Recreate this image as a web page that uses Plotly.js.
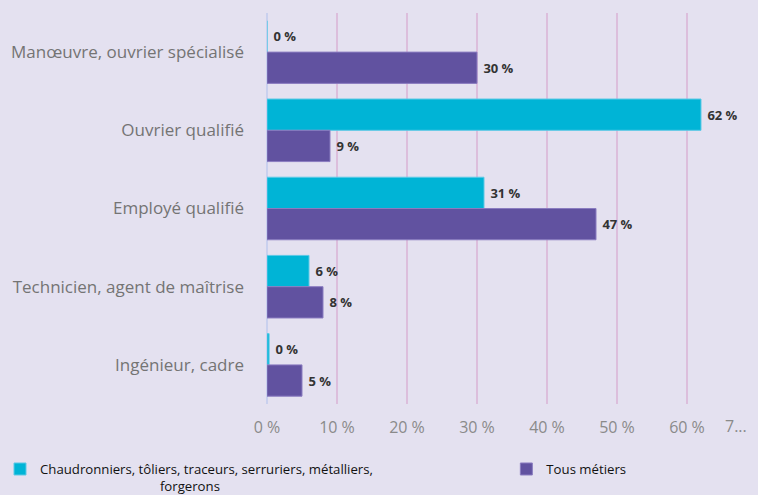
<!DOCTYPE html>
<html><head><meta charset="utf-8">
<script src="https://cdn.plot.ly/plotly-3.0.1.min.js"></script>
<style>html,body{margin:0;padding:0;background:#e4e1f0;}#chart{width:758px;height:495px;}</style>
</head><body><div id="chart"></div>
<script>
const categories = ["Manœuvre, ouvrier spécialisé","Ouvrier qualifié","Employé qualifié","Technicien, agent de maîtrise","Ingénieur, cadre"];
const chaudronniers = [0, 62, 31, 6, 0.3];
const tousMetiers = [30, 9, 47, 8, 5];
const pad = "\u00a0".repeat(35);
const seriesNames = ["Chaudronniers, tôliers, traceurs, serruriers, métalliers,<br>" + pad + "forgerons","Tous métiers"];
const tickVals = [0,10,20,30,40,50,60,70];
const tickText = ["0 %","10 %","20 %","30 %","40 %","50 %","60 %",""];
const lastTickVal = 70;
const lastTickText = "7...";

const labelFont = {family:"Open Sans", size:13, color:"#333333", weight:"bold"};
const traces = [
  {type:"bar", orientation:"h", y:categories, x:chaudronniers, name:seriesNames[0], legend:"legend",
   marker:{color:"#00b4d6", line:{color:"#5cc9e6", width:1}},
   texttemplate:"\u00a0%{x:.0f} %", textposition:"outside", textfont:labelFont, cliponaxis:false, hoverinfo:"skip"},
  {type:"bar", orientation:"h", y:categories, x:tousMetiers, name:seriesNames[1], legend:"legend2",
   marker:{color:"#6152a0", line:{color:"#8a7cc0", width:1}},
   texttemplate:"\u00a0%{x:.0f} %", textposition:"outside", textfont:labelFont, cliponaxis:false, hoverinfo:"skip"}
];
const legendFont = {family:"Open Sans", size:13.2, color:"#111111"};
const tickFont = {family:"Open Sans", size:16, color:"#8a8a8a"};
const layout = {
  width:758, height:495,
  paper_bgcolor:"#e4e1f0", plot_bgcolor:"#e4e1f0",
  margin:{l:267, r:1, t:13, b:91},
  barmode:"group", bargap:0.2, bargroupgap:0,
  font:{family:"Open Sans", size:14, color:"#6e6e6e"},
  xaxis:{range:[0,70], tickvals:tickVals, ticktext:tickText, showgrid:true, gridcolor:"#dcbedc", gridwidth:1.5,
         zeroline:true, zerolinecolor:"#c9d0ee", zerolinewidth:1.5, showline:false, ticks:"",
         tickfont:tickFont, ticklabelstandoff:12, fixedrange:true},
  yaxis:{autorange:"reversed", showgrid:false, zeroline:false, ticks:"", ticklabelstandoff:22,
         tickfont:{family:"Open Sans", size:17, color:"#747474"}, fixedrange:true},
  annotations:[{x:lastTickVal, xref:"x", y:0, yref:"paper", yanchor:"top", xanchor:"right", xshift:-8, yshift:-9,
                text:lastTickText, showarrow:false, font:tickFont}],
  showlegend:true,
  legend:{orientation:"h", xref:"container", yref:"container", x:-0.01, y:0.083, xanchor:"left", yanchor:"top",
          font:legendFont, valign:"top", itemwidth:30, bgcolor:"rgba(0,0,0,0)"},
  legend2:{orientation:"h", xref:"container", yref:"container", x:0.668, y:0.083, xanchor:"left", yanchor:"top",
          font:legendFont, valign:"top", itemwidth:30, bgcolor:"rgba(0,0,0,0)"}
};
Plotly.newPlot("chart", traces, layout, {displayModeBar:false, staticPlot:true});
</script></body></html>
